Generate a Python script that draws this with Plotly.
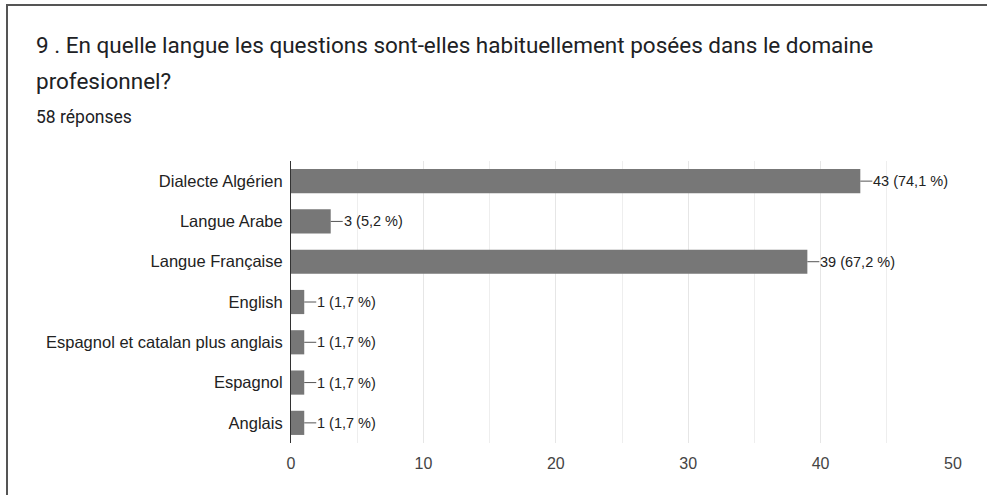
import plotly.graph_objects as go

categories = ["Dialecte Algérien", "Langue Arabe", "Langue Française", "English",
              "Espagnol et catalan plus anglais", "Espagnol", "Anglais"]
counts = [43, 3, 39, 1, 1, 1, 1]
total = 58
x_ticks = [0, 10, 20, 30, 40, 50]
title_line1 = "9 . En quelle langue les questions sont-elles habituellement posées dans le domaine"
title_line2 = "profesionnel?"
subtitle = "58 réponses"

labels = [f"{c} ({c / total * 100:.1f} %)".replace(".", ",") for c in counts]

fig = go.Figure()
fig.add_trace(go.Bar(
    x=counts, y=categories, orientation="h",
    marker=dict(color="#777777", line=dict(width=0)),
    width=0.6, hoverinfo="skip",
))

W, H = 987, 495
L, R, T, B = 291, 34, 161, 52
pw, ph = W - L - R, H - T - B

def px(xp):
    return (xp - L) / pw

def py(yp):
    return (H - B - yp) / ph

for c, cat, lab in zip(counts, categories, labels):
    fig.add_annotation(
        x=c, y=cat, xref="x", yref="y", text=lab,
        showarrow=True, arrowhead=0, arrowwidth=1, arrowcolor="#555555",
        ax=12, ay=0, xanchor="left", yanchor="middle", borderpad=0,
        font=dict(family="Liberation Sans, Arial", size=14.5, color="#222222"),
    )

text_font = dict(family="Roboto", color="#202124")
fig.add_annotation(x=px(34), y=py(45), xref="paper", yref="paper", text=title_line1,
                   showarrow=False, xanchor="left", yanchor="middle",
                   font=dict(size=22.5, **text_font))
fig.add_annotation(x=px(34), y=py(81), xref="paper", yref="paper", text=title_line2,
                   showarrow=False, xanchor="left", yanchor="middle",
                   font=dict(size=22.5, **text_font))
fig.add_annotation(x=px(34), y=py(117), xref="paper", yref="paper", text=subtitle,
                   showarrow=False, xanchor="left", yanchor="middle",
                   font=dict(size=17.5, **text_font))

# card border (left and top)
fig.add_shape(type="line", xref="paper", yref="paper", x0=px(7), x1=px(7), y0=py(5), y1=py(500),
              line=dict(color="#555555", width=2))
fig.add_shape(type="line", xref="paper", yref="paper", x0=px(6), x1=px(990), y0=py(5), y1=py(5),
              line=dict(color="#555555", width=2))

fig.update_layout(
    width=W, height=H,
    margin=dict(l=L, r=R, t=T, b=B),
    paper_bgcolor="white", plot_bgcolor="white",
    showlegend=False, bargap=0.4,
    xaxis=dict(range=[0, 50], tickvals=x_ticks, showgrid=True, gridcolor="#e6e6e6", gridwidth=1,
               minor=dict(dtick=5, showgrid=True, gridcolor="#eeeeee"),
               zeroline=False, showline=False, ticks="outside", ticklen=6,
               tickcolor="rgba(0,0,0,0)",
               tickfont=dict(family="Liberation Sans, Arial", size=16, color="#444444"),
               fixedrange=True),
    yaxis=dict(autorange="reversed", showline=True, linecolor="#333333", linewidth=1,
               showgrid=False, ticks="outside", ticklen=4, tickcolor="rgba(0,0,0,0)",
               tickfont=dict(family="Liberation Sans, Arial", size=16.5, color="#222222"),
               fixedrange=True),
)

fig.write_html("out.html", config={"displayModeBar": False},
               post_script="document.body.style.margin='0';")
